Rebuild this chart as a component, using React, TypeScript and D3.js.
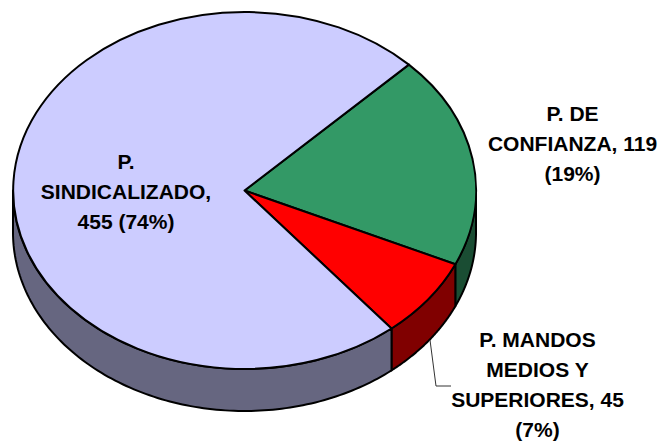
import React from "react";
import * as d3 from "d3";

const categories = ["P. DE CONFIANZA", "P. MANDOS MEDIOS Y SUPERIORES", "P. SINDICALIZADO"];
const values = [119, 45, 455];
const topColors = ["#339966", "#FF0000", "#CCCCFF"];
const sideColors = ["#1A4D33", "#800000", "#666680"];
const labelLines = [
  { lines: ["P. DE", "CONFIANZA, 119", "(19%)"], x: 572.5, y: 121 },
  { lines: ["P. MANDOS", "MEDIOS Y", "SUPERIORES, 45", "(7%)"], x: 537.5, y: 346.7 },
  { lines: ["P.", "SINDICALIZADO,", "455 (74%)"], x: 126, y: 168.7 },
];

const W = 662, H = 441;
const cx = 244.5, cy = 190.5, rx = 231.5, ry = 178.5, depth = 42;
const startDeg = 45.2;

const px = (a: number) => cx + rx * Math.sin(a);
const py = (a: number) => cy - ry * Math.cos(a);

const pie = d3.pie<number>().sort(null)
  .startAngle((startDeg * Math.PI) / 180)
  .endAngle(((startDeg + 360) * Math.PI) / 180);
const arcs = pie(values);
const arcUnit = d3.arc<d3.PieArcDatum<number>>().innerRadius(0).outerRadius(1);

function sidePath(a0: number, a1: number): string | null {
  // the visible wall is the part of the rim facing the viewer: angles PI/2..3PI/2
  const lo = Math.PI / 2, hi = (3 * Math.PI) / 2;
  const a = Math.max(a0, lo), b = Math.min(a1, hi);
  if (b <= a) return null;
  const pts = d3.range(0, 121).map((i) => a + ((b - a) * i) / 120);
  const top = pts.map((t) => [px(t), py(t)] as [number, number]);
  const bot = pts.slice().reverse().map((t) => [px(t), py(t) + depth] as [number, number]);
  return d3.line()([...top, ...bot]) + "Z";
}

export default function App() {
  return (
    <svg width={W} height={H} style={{ position: "absolute", left: 0, top: 0 }} fontFamily="'Liberation Sans', Arial, sans-serif">
      <rect width={W} height={H} fill="#fff" />
      {arcs.map((d, i) => {
        const p = sidePath(d.startAngle, d.endAngle);
        return p ? <path key={i} d={p} fill={sideColors[i]} stroke="#000" strokeWidth={2} strokeLinejoin="round" /> : null;
      })}
      {arcs.map((d, i) => (
        <path
          key={i}
          d={arcUnit(d) as string}
          transform={`translate(${cx},${cy}) scale(${rx},${ry})`}
          fill={topColors[i]}
          stroke="#000"
          strokeWidth={2}
          strokeLinejoin="round"
          vectorEffect="non-scaling-stroke"
        >
          <title>{categories[i]}</title>
        </path>
      ))}
      <path d="M430,340 L436,386 L451,386" fill="none" stroke="#333" strokeWidth={1} />
      {labelLines.map((l, i) => (
        <text key={i} textAnchor="middle" fontWeight="bold" fontSize={21} fill="#000">
          {l.lines.map((t, j) => (
            <tspan key={j} x={l.x} y={l.y + j * 30}>{t}</tspan>
          ))}
        </text>
      ))}
    </svg>
  );
}
